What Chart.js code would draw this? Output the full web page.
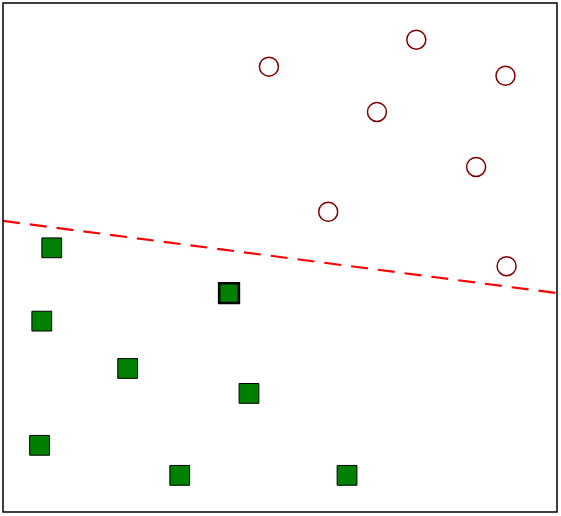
<!DOCTYPE html>
<html>
<head>
<meta charset="utf-8">
<script src="https://cdn.jsdelivr.net/npm/chart.js@4"></script>
<style>
  html, body { margin: 0; padding: 0; background: #fff; }
  #wrap { width: 561px; height: 516px; }
</style>
</head>
<body>
<div id="wrap"><canvas id="plot" width="561" height="516"></canvas></div>
<script>
// class A (green squares)
const squareX = [0.88, 0.70, 2.25, 4.08, 4.44, 0.66, 3.19, 6.21]
const squareY = [5.19, 3.75, 2.82, 4.30, 2.33, 1.31, 0.72, 0.72]
// class B (hollow circles)
const circleX = [4.80, 7.46, 9.07, 6.75, 8.54, 5.87, 9.09]
const circleY = [8.75, 9.28, 8.57, 7.86, 6.78, 5.90, 4.83]
// separating line endpoints
const lineX = [0, 10]
const lineY = [5.72, 4.30]
// index of the emphasised square
const marked = 3

const toPoints = (xs, ys) => xs.map((x, i) => ({ x, y: ys[i] }))

const frame = {
  id: 'frame',
  afterDraw (chart) {
    const { ctx, chartArea: a } = chart
    ctx.save()
    ctx.strokeStyle = '#000'
    ctx.lineWidth = 1.5
    ctx.strokeRect(a.left, a.top, a.right - a.left, a.bottom - a.top)
    ctx.restore()
  }
}

const config = {
  type: 'scatter',
  data: {
    datasets: [
      {
        type: 'line',
        data: toPoints(lineX, lineY),
        borderColor: '#ff0000',
        borderWidth: 2.2,
        borderDash: [17, 10],
        pointRadius: 0,
        fill: false,
        order: 3
      },
      {
        data: toPoints(squareX, squareY),
        pointStyle: 'rect',
        pointRadius: 14,
        backgroundColor: '#008000',
        borderColor: '#000',
        borderWidth: squareX.map((_, i) => i === marked ? 2.5 : 1),
        order: 1
      },
      {
        data: toPoints(circleX, circleY),
        pointStyle: 'circle',
        pointRadius: 9.5,
        backgroundColor: 'rgba(255,255,255,0)',
        borderColor: '#800000',
        borderWidth: 1.5,
        order: 2
      }
    ]
  },
  options: {
    responsive: false,
    animation: false,
    layout: { autoPadding: false, padding: { left: 3, top: 3, right: 4, bottom: 4 } },
    plugins: { legend: { display: false }, tooltip: { enabled: false } },
    scales: {
      x: { type: 'linear', min: 0, max: 10, display: false },
      y: { type: 'linear', min: 0, max: 10, display: false }
    }
  },
  plugins: [frame]
}

new Chart(document.getElementById('plot'), config) // eslint-disable-line
</script>
</body>
</html>
